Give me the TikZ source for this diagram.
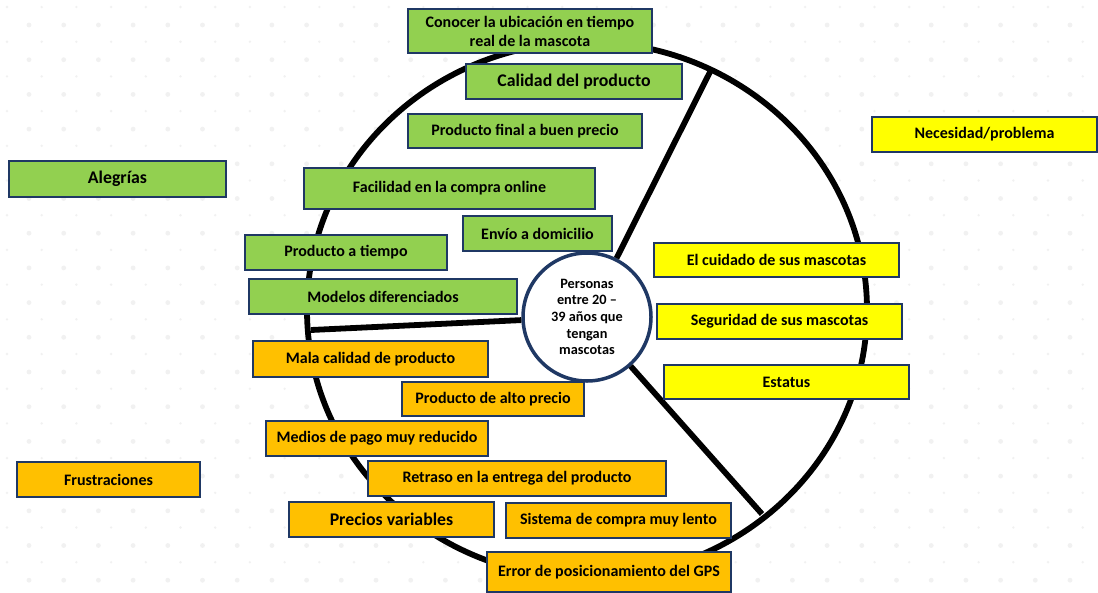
\documentclass[tikz,border=0pt]{standalone}
\usepackage{fontspec}
\setmainfont{Carlito}
\definecolor{gfill}{HTML}{92D050}
\definecolor{ofill}{HTML}{FFC000}
\definecolor{yfill}{HTML}{FFFF00}
\definecolor{navy}{HTML}{1F3864}
\definecolor{dotc}{HTML}{F1F1F1}
\begin{document}
\begin{tikzpicture}[x=1pt,y=-1pt,
  box/.style={draw=navy, line width=1.8pt, inner sep=0pt, align=center, text=black,
    font=\bfseries\fontsize{16}{19}\selectfont},
  gbox/.style={box, fill=gfill},
  obox/.style={box, fill=ofill},
  ybox/.style={box, fill=yfill},
  big/.style={font=\bfseries\fontsize{17.8}{21}\selectfont},
  spoke/.style={line width=5.8pt, draw=black},
]
\useasboundingbox (0,0) rectangle (1098,592);
\clip (0,0) rectangle (1098,592);
\fill[white] (0,0) rectangle (1098,592);
% faint dotted background
\foreach \i in {0,...,31} {
  \foreach \j in {0,...,17} {
    \fill[dotc] (7+34.7*\i, 7+34.7*\j) circle (1.3pt);
    \fill[dotc] (29+34.7*\i, 25+34.7*\j) circle (2.4pt);
  }
}
% big ellipse
\draw[line width=5.8pt, fill=white] (587,310) ellipse [x radius=280pt, y radius=268pt];
\coordinate (e1) at (712,68);
\coordinate (e2) at (311,330);
\coordinate (e3) at (762,514);
% center circle
\node[circle, draw=navy, line width=3.5pt, fill=white, minimum size=128pt, inner sep=0pt,
  align=center, text=black, font=\bfseries\fontsize{14.3}{16.7}\selectfont] (cc) at (587,317)
  {Personas\\entre 20 –\\39 años que\\tengan\\mascotas};
\draw[spoke] (e1) -- (cc);
\draw[spoke] (e2) -- (cc);
\draw[spoke] (e3) -- (cc);
% green boxes
\node[gbox, minimum width=244pt, minimum height=44pt] (g1) at (530,31) {Conocer la ubicación en tiempo\\real de la mascota};
\node[gbox, big, minimum width=216pt, minimum height=35pt] (g2) at (574,81.5) {Calidad del producto};
\node[gbox, minimum width=234pt, minimum height=34pt] (g3) at (525,131) {Producto final a buen precio};
\node[gbox, big, minimum width=217pt, minimum height=36pt] (g4) at (117.5,179) {Alegrías};
\node[gbox, minimum width=291pt, minimum height=41pt] (g5) at (449.5,188.5) {Facilidad en la compra online};
\node[gbox, minimum width=149pt, minimum height=35pt] (g6) at (537.5,233.5) {Envío a domicilio};
\node[gbox, minimum width=202pt, minimum height=35pt] (g7) at (346,252.5) {Producto a tiempo};
\node[gbox, minimum width=268pt, minimum height=35pt] (g8) at (383,296.5) {Modelos diferenciados};
% orange boxes
\node[obox, minimum width=235pt, minimum height=36pt] (o1) at (370.5,359) {Mala calidad de producto};
\node[obox, minimum width=182pt, minimum height=34pt] (o2) at (493,399) {Producto de alto precio};
\node[obox, minimum width=222pt, minimum height=35pt] (o3) at (377,438.5) {Medios de pago muy reducido};
\node[obox, minimum width=298pt, minimum height=35pt] (o4) at (517,478.5) {Retraso en la entrega del producto};
\node[obox, big, minimum width=205pt, minimum height=35pt] (o5) at (391.5,519.5) {Precios variables};
\node[obox, minimum width=225pt, minimum height=35pt] (o6) at (618.5,520.5) {Sistema de compra muy lento};
\node[obox, minimum width=244pt, minimum height=40pt] (o7) at (609,572) {Error de posicionamiento del GPS};
\node[obox, minimum width=183pt, minimum height=35pt] (o8) at (108.5,479.5) {Frustraciones};
% yellow boxes
\node[ybox, minimum width=225pt, minimum height=35pt] (y1) at (984.5,134.5) {Necesidad/problema};
\node[ybox, minimum width=245pt, minimum height=34pt] (y2) at (776.5,260) {El cuidado de sus mascotas};
\node[ybox, minimum width=245pt, minimum height=35pt] (y3) at (779.5,321.5) {Seguridad de sus mascotas};
\node[ybox, minimum width=245pt, minimum height=34pt] (y4) at (786.5,382) {Estatus};
\end{tikzpicture}
\end{document}
